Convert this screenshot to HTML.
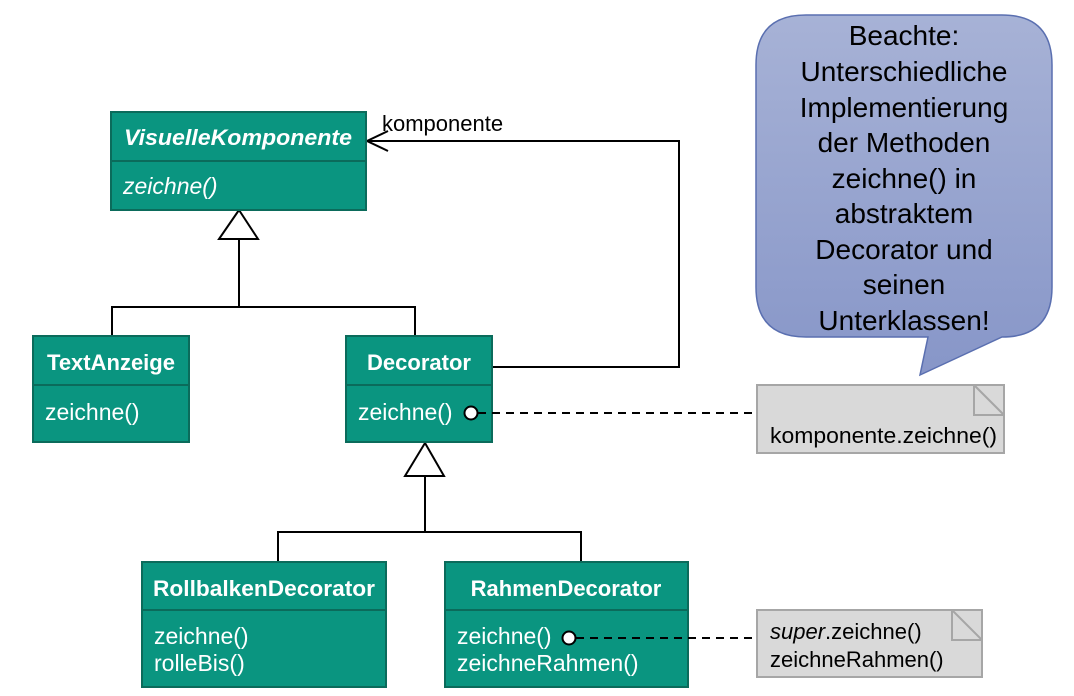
<!DOCTYPE html>
<html><head><meta charset="utf-8"><style>
html,body{margin:0;padding:0;background:#fff;}
svg{display:block;font-family:"Liberation Sans",Arial,sans-serif;}
</style></head><body>
<svg width="1074" height="696" viewBox="0 0 1074 696" xmlns="http://www.w3.org/2000/svg">
<defs>
<linearGradient id="bg" x1="0" y1="0" x2="0" y2="1">
<stop offset="0" stop-color="#a7b2d6"/><stop offset="1" stop-color="#8796c8"/>
</linearGradient>
</defs>
<g fill="none" stroke="#000" stroke-width="2">
<polyline points="112,336 112,307 415,307 415,336"/>
<line x1="239" y1="239" x2="239" y2="307"/>
<polygon points="239,210 219,239 258,239" fill="#fff"/>
<polyline points="278,562 278,532 581,532 581,562"/>
<line x1="425" y1="476" x2="425" y2="532"/>
<polygon points="425,443 405,476 444,476" fill="#fff"/>
<polyline points="492,367 679,367 679,141 367,141"/>
<polyline points="388,131 367,141 388,151"/>
</g>
<text x="382" y="131" font-size="22" fill="#000">komponente</text>

<g stroke="#0b6b5b" stroke-width="2" fill="#0a9580">
<rect x="111" y="112" width="255" height="98"/>
<line x1="111" y1="161" x2="366" y2="161"/>
<rect x="33" y="336" width="156" height="106"/>
<line x1="33" y1="385" x2="189" y2="385"/>
<rect x="346" y="336" width="146" height="106"/>
<line x1="346" y1="385" x2="492" y2="385"/>
<rect x="142" y="562" width="244" height="125"/>
<line x1="142" y1="610" x2="386" y2="610"/>
<rect x="445" y="562" width="243" height="125"/>
<line x1="445" y1="610" x2="688" y2="610"/>
</g>
<g fill="#fff" font-size="23">
<text x="238" y="145" text-anchor="middle" font-weight="bold" font-style="italic" font-size="22" textLength="228" lengthAdjust="spacingAndGlyphs">VisuelleKomponente</text>
<text x="123" y="194" font-style="italic">zeichne()</text>
<text x="111" y="370" text-anchor="middle" font-weight="bold" font-size="22">TextAnzeige</text>
<text x="45" y="420">zeichne()</text>
<text x="419" y="370" text-anchor="middle" font-weight="bold" font-size="22">Decorator</text>
<text x="358" y="420">zeichne()</text>
<text x="264" y="596" text-anchor="middle" font-weight="bold" font-size="22" textLength="222" lengthAdjust="spacingAndGlyphs">RollbalkenDecorator</text>
<text x="154" y="644">zeichne()</text>
<text x="154" y="671">rolleBis()</text>
<text x="566" y="596" text-anchor="middle" font-weight="bold" font-size="22">RahmenDecorator</text>
<text x="457" y="644">zeichne()</text>
<text x="457" y="671">zeichneRahmen()</text>
</g>
<g fill="none" stroke="#000" stroke-width="2" stroke-dasharray="8,6">
<line x1="478" y1="413" x2="757" y2="413"/>
<line x1="576" y1="638" x2="757" y2="638"/>
</g>
<circle cx="471" cy="413" r="6.5" fill="#fff" stroke="#000" stroke-width="2"/>
<circle cx="569" cy="638" r="6.5" fill="#fff" stroke="#000" stroke-width="2"/>

<g fill="#d9d9d9" stroke="#a6a6a6" stroke-width="2">
<rect x="757" y="385" width="247" height="68"/>
<polyline points="974,385 974,415 1004,415" fill="none"/>
<line x1="974" y1="385" x2="1004" y2="415"/>
<rect x="757" y="610" width="225" height="67"/>
<polyline points="952,610 952,640 982,640" fill="none"/>
<line x1="952" y1="610" x2="982" y2="640"/>
</g>
<g font-size="22" fill="#000">
<text x="770" y="443" textLength="227" lengthAdjust="spacingAndGlyphs">komponente.zeichne()</text>
<text x="770" y="639"><tspan font-style="italic">super</tspan>.zeichne()</text>
<text x="770" y="667">zeichneRahmen()</text>
</g>

<path d="M806,15 H1002 Q1052,15 1052,65 V287 Q1052,337 1002,337 L920,375 L928,337 H806 Q756,337 756,287 V65 Q756,15 806,15 Z" fill="url(#bg)" stroke="#5a6fb0" stroke-width="1.5"/>
<g font-size="28" fill="#000" text-anchor="middle">
<text x="904" y="45">Beachte:</text>
<text x="904" y="81">Unterschiedliche</text>
<text x="904" y="117">Implementierung</text>
<text x="904" y="152">der Methoden</text>
<text x="904" y="188">zeichne() in</text>
<text x="904" y="223">abstraktem</text>
<text x="904" y="259">Decorator und</text>
<text x="904" y="294">seinen</text>
<text x="904" y="330">Unterklassen!</text>
</g>
</svg>
</body></html>
